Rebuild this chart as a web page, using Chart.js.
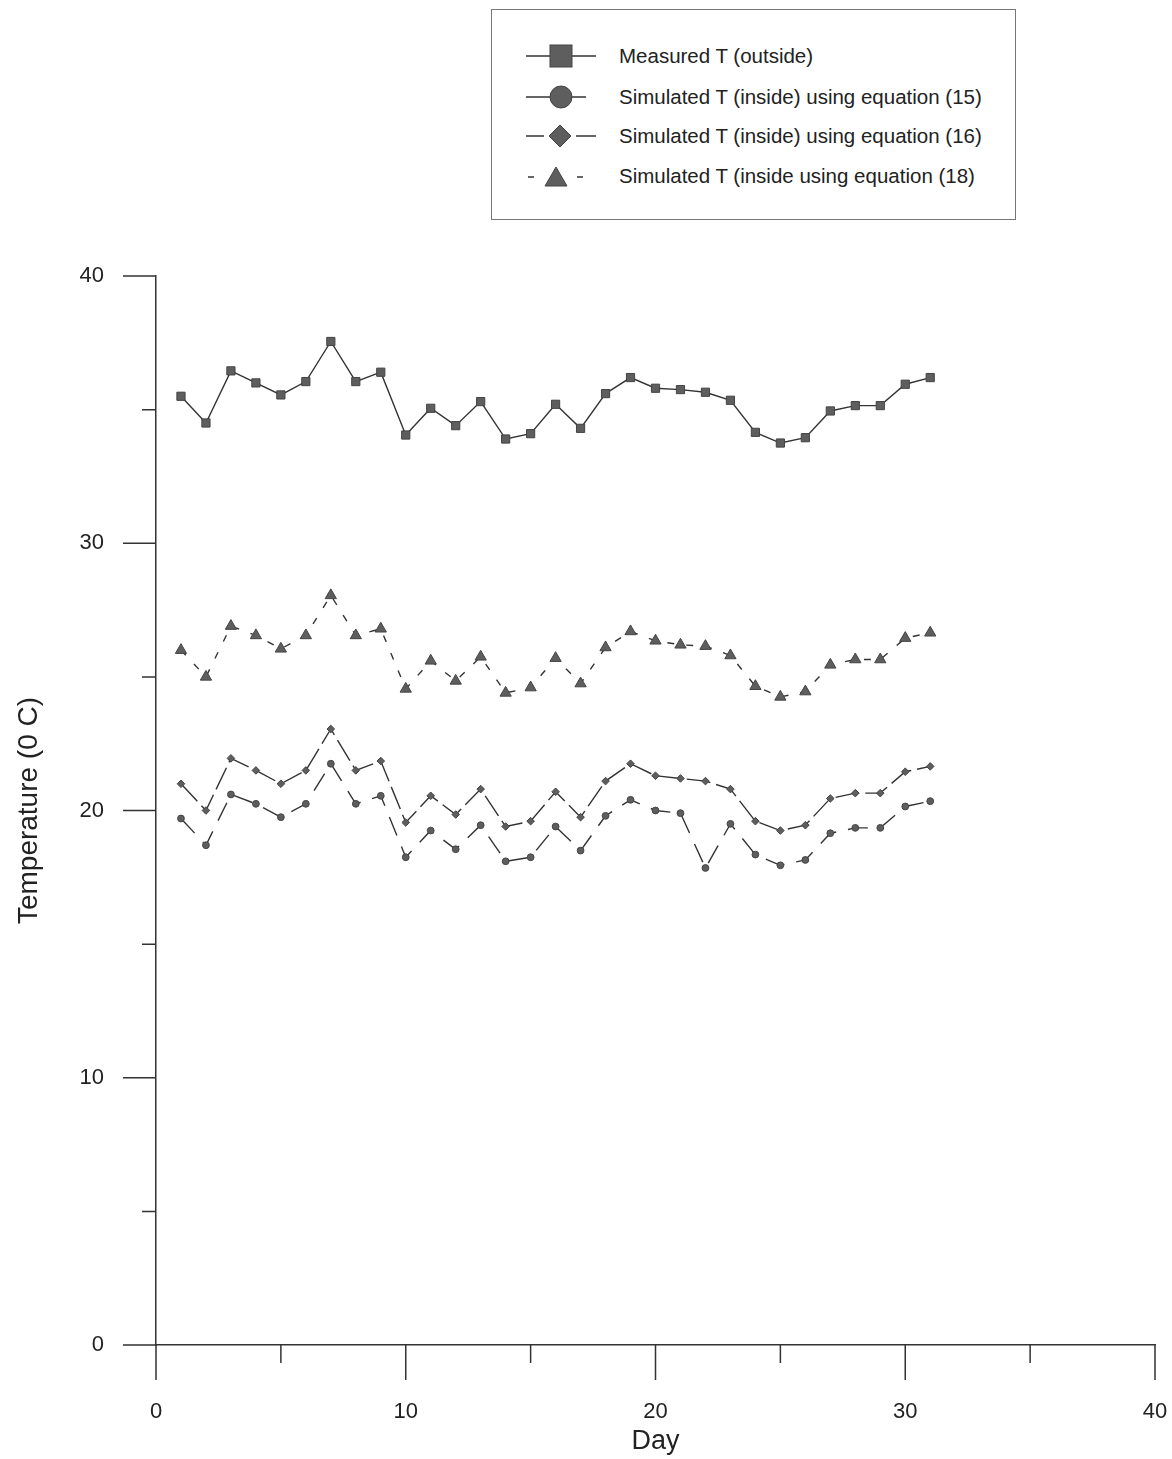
<!DOCTYPE html>
<html>
<head>
<meta charset="utf-8">
<title>Temperature by day</title>
<script src="https://cdn.jsdelivr.net/npm/chart.js@4.4.0/dist/chart.umd.min.js"></script>
<style>
  body { margin: 0; background: #fff; }
  #wrap { position: relative; width: 1172px; height: 1459px; }
  #chart { position: absolute; left: 0; top: 0; }
  #legend {
    position: absolute; left: 491px; top: 9px; width: 523px; height: 209px;
    border: 1px solid #777; background: #fff;
    font-family: Arial, 'Liberation Sans', sans-serif; font-size: 20.5px; color: #222;
  }
  .row { position: absolute; left: 0; height: 30px; width: 100%; }
  .row svg { position: absolute; left: 28px; top: 0; }
  .row span { position: absolute; left: 127px; top: 3px; white-space: nowrap; }
</style>
</head>
<body>
<div id="wrap">
  <canvas id="chart" width="1172" height="1459"></canvas>
  <div id="legend">
    <div class="row" style="top:31px">
      <svg width="80" height="30"><line x1="6" y1="15" x2="76" y2="15" stroke="#333" stroke-width="1.5"/><rect x="30" y="4" width="22" height="22" fill="#5e5e5e" stroke="#444"/></svg>
      <span>Measured T (outside)</span>
    </div>
    <div class="row" style="top:72px">
      <svg width="80" height="30"><line x1="6" y1="15" x2="66" y2="15" stroke="#333" stroke-width="1.5"/><circle cx="41" cy="15" r="11" fill="#5e5e5e" stroke="#444"/></svg>
      <span>Simulated T (inside) using equation (15)</span>
    </div>
    <div class="row" style="top:111px">
      <svg width="80" height="30"><line x1="6" y1="15" x2="24" y2="15" stroke="#333" stroke-width="1.5"/><line x1="56" y1="15" x2="76" y2="15" stroke="#333" stroke-width="1.5"/><polygon points="40,4 51,15 40,26 29,15" fill="#5e5e5e" stroke="#444"/></svg>
      <span>Simulated T (inside) using equation (16)</span>
    </div>
    <div class="row" style="top:151px">
      <svg width="80" height="30"><line x1="8" y1="16" x2="14" y2="16" stroke="#333" stroke-width="1.5"/><line x1="57" y1="16" x2="63" y2="16" stroke="#333" stroke-width="1.5"/><polygon points="36,6 47,25 25,25" fill="#5e5e5e" stroke="#444"/></svg>
      <span>Simulated T (inside using equation (18)</span>
    </div>
  </div>
</div>
<script>
(function () {
  'use strict';

  // --- Data ---
  var DAYS = [1, 2, 3, 4, 5, 6, 7, 8, 9, 10, 11, 12, 13, 14, 15, 16,
              17, 18, 19, 20, 21, 22, 23, 24, 25, 26, 27, 28, 29, 30, 31];

  var MEASURED = [35.5, 34.5, 36.45, 36.0, 35.55, 36.05, 37.55, 36.05, 36.4, 34.05, 35.05,
                  34.4, 35.3, 33.9, 34.1, 35.2, 34.3, 35.6, 36.2, 35.8, 35.75, 35.65,
                  35.35, 34.15, 33.75, 33.95, 34.95, 35.15, 35.15, 35.95, 36.2];

  var EQ15 = [19.7, 18.7, 20.6, 20.25, 19.75, 20.25, 21.75, 20.25, 20.55, 18.25, 19.25,
              18.55, 19.45, 18.1, 18.25, 19.4, 18.5, 19.8, 20.4, 20.0, 19.9, 17.85,
              19.5, 18.35, 17.95, 18.15, 19.15, 19.35, 19.35, 20.15, 20.35];

  var EQ16 = [21.0, 20.0, 21.95, 21.5, 21.0, 21.5, 23.05, 21.5, 21.85, 19.55, 20.55,
              19.85, 20.8, 19.4, 19.6, 20.7, 19.75, 21.1, 21.75, 21.3, 21.2, 21.1,
              20.8, 19.6, 19.25, 19.45, 20.45, 20.65, 20.65, 21.45, 21.65];

  var EQ18 = [26.0, 25.0, 26.9, 26.55, 26.05, 26.55, 28.05, 26.55, 26.8, 24.55, 25.6,
              24.85, 25.75, 24.4, 24.6, 25.7, 24.75, 26.1, 26.7, 26.35, 26.2, 26.15,
              25.8, 24.65, 24.25, 24.45, 25.45, 25.65, 25.65, 26.45, 26.65];

  var X_TICKS = [0, 10, 20, 30, 40];
  var Y_TICKS = [0, 10, 20, 30, 40];

  var FONT = "Arial, 'Liberation Sans', sans-serif";
  var INK = '#333';
  var MARK = '#5e5e5e';

  function toPoints(values) {
    return DAYS.map(function (d, i) { return { x: d, y: values[i] }; });
  }

  function series(label, values, style, radius, dash) {
    return {
      label: label,
      data: toPoints(values),
      showLine: true,
      borderColor: INK,
      borderWidth: 1.4,
      borderDash: dash,
      pointStyle: style,
      pointRadius: radius,
      pointBackgroundColor: MARK,
      pointBorderColor: '#444',
      pointBorderWidth: 1,
      tension: 0
    };
  }

  // major/minor tick marks drawn at the scale's own positions
  var tickMarks = {
    id: 'tickMarks',
    afterDraw: function (chart) {
      var ctx = chart.ctx;
      var xs = chart.scales.x, ys = chart.scales.y;
      var area = chart.chartArea;
      ctx.save();
      ctx.strokeStyle = INK;
      ctx.lineWidth = 1.5;
      ctx.beginPath();
      for (var v = 0; v <= 40; v += 5) {
        var major = X_TICKS.indexOf(v) !== -1;
        var px = xs.getPixelForValue(v);
        ctx.moveTo(px, area.bottom);
        ctx.lineTo(px, area.bottom + (major ? 35 : 18));
        var py = ys.getPixelForValue(v);
        var majorY = Y_TICKS.indexOf(v) !== -1;
        ctx.moveTo(area.left, py);
        ctx.lineTo(area.left - (majorY ? 33 : 14), py);
      }
      ctx.stroke();
      ctx.restore();
    }
  };

  new Chart(document.getElementById('chart'), {
    type: 'scatter',
    data: {
      datasets: [
        series('Measured T (outside)', MEASURED, 'rect', 5.8, []),
        series('Simulated T (inside) using equation (15)', EQ15, 'circle', 3.4, [20, 12]),
        series('Simulated T (inside) using equation (16)', EQ16, 'rectRot', 3.8, [24, 6]),
        series('Simulated T (inside using equation (18)', EQ18, 'triangle', 6.5, [7, 12])
      ]
    },
    options: {
      responsive: false,
      animation: false,
      layout: { padding: { top: 276, right: 17, left: 0, bottom: 0 } },
      plugins: { legend: { display: false }, tooltip: { enabled: false } },
      scales: {
        x: {
          type: 'linear', min: 0, max: 40,
          afterFit: function (s) { s.height = 114; s.paddingLeft = 0; s.paddingRight = 0; },
          ticks: {
            stepSize: 5, padding: 19, color: '#222',
            font: { family: FONT, size: 22 },
            maxRotation: 0,
            callback: function (v) { return X_TICKS.indexOf(v) !== -1 ? v : ''; }
          },
          grid: { display: true, drawOnChartArea: false, drawTicks: true, tickLength: 35, tickColor: 'transparent' },
          border: { display: true, color: INK, width: 1.5 },
          title: { display: true, text: 'Day', color: '#222', font: { family: FONT, size: 27 }, padding: { top: 0, bottom: 1 } }
        },
        y: {
          type: 'linear', min: 0, max: 40,
          afterFit: function (s) { s.width = 156; },
          ticks: {
            stepSize: 5, padding: 19, color: '#222',
            font: { family: FONT, size: 22 },
            callback: function (v) { return Y_TICKS.indexOf(v) !== -1 ? v : ''; }
          },
          grid: { display: true, drawOnChartArea: false, drawTicks: true, tickLength: 33, tickColor: 'transparent' },
          border: { display: true, color: INK, width: 1.5 },
          title: { display: true, text: 'Temperature (0 C)', color: '#222', font: { family: FONT, size: 28 }, padding: { top: 12, bottom: 0 } }
        }
      }
    },
    plugins: [tickMarks]
  });
})();
</script>
</body>
</html>
